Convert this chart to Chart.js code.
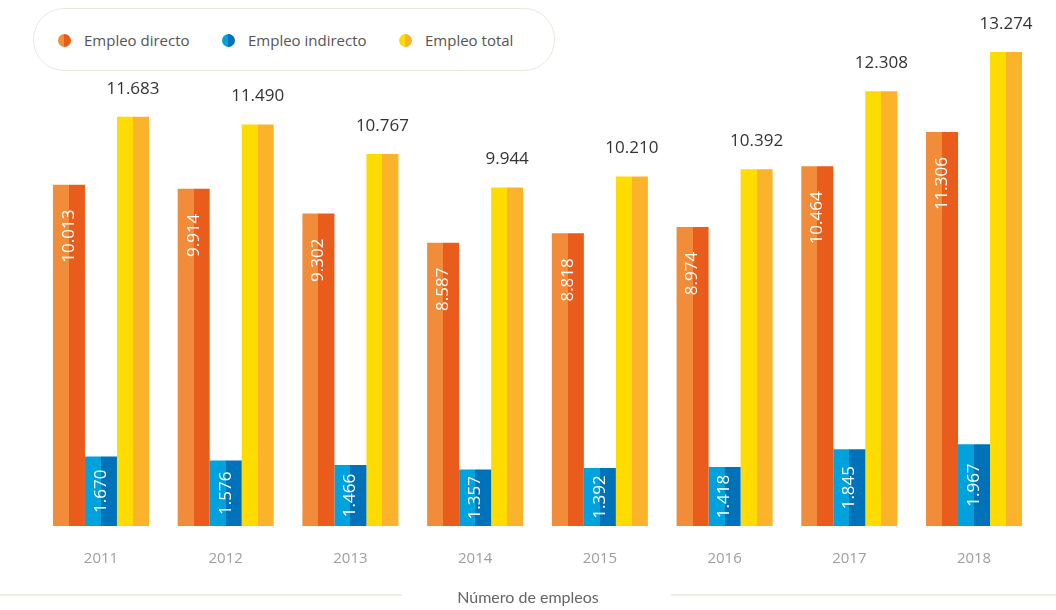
<!DOCTYPE html>
<html>
<head>
<meta charset="utf-8">
<script src="https://cdn.jsdelivr.net/npm/chart.js@4"></script>
<style>
  body { margin: 0; background: #fff; font-family: "Open Sans", sans-serif; }
  #wrap { position: relative; width: 1056px; height: 610px; }
  #legend {
    position: absolute; left: 33px; top: 8px; width: 522px; height: 63px;
    border: 1.5px solid #e6e9dc; border-radius: 31px; box-sizing: border-box;
    background: #fff;
  }
  .item { position: absolute; top: 21px; font-size: 15px; color: #555; line-height: 20px; }
  .dot { position: absolute; top: 25px; width: 13px; height: 13px; border-radius: 50%; }
  #axisTitle {
    position: absolute; top: 587px; left: 0; width: 1056px; text-align: center;
    font-family: Lato, sans-serif; font-size: 16px; color: #666;
  }
  .rule { position: absolute; top: 594px; height: 2px; background: #eeeee6; }
</style>
</head>
<body>
<div id="wrap">
  <canvas id="chart" width="1056" height="610"></canvas>
  <div id="legend"></div>
  <div class="rule" style="left:0;width:402px"></div>
  <div class="rule" style="left:671px;width:385px"></div>
  <div id="axisTitle">Número de empleos</div>
</div>
<script>
// data
const years = ['2011', '2012', '2013', '2014', '2015', '2016', '2017', '2018'];
const directo = [10013, 9914, 9302, 8587, 8818, 8974, 10464, 11306];
const indirecto = [1670, 1576, 1466, 1357, 1392, 1418, 1845, 1967];
const total = [11683, 11490, 10767, 9944, 10210, 10392, 12308, 13274];
const seriesNames = ['Empleo directo', 'Empleo indirecto', 'Empleo total'];

// two tones per series (left half, right half)
const tones = [
    ['#f08c3a', '#e95c1b'],
    ['#00a2dd', '#0072b9'],
    ['#ffdc00', '#fab32b']
];

const CAT_PCT = 0.77;

// split the bar into a light and a dark half
function twoTone(dsIndex) {
    return (context) => {
        const chart = context.chart;
        const xs = chart.scales.x;
        if (!xs || context.dataIndex === undefined) return tones[dsIndex][0];
        const catW = xs.width / years.length;
        const barW = catW * CAT_PCT / 3;
        const center = xs.getPixelForValue(context.dataIndex);
        const left = center - catW * CAT_PCT / 2 + dsIndex * barW;
        if (!isFinite(left) || !isFinite(barW) || barW <= 0) return tones[dsIndex][0];
        const g = chart.ctx.createLinearGradient(left, 0, left + barW, 0);
        g.addColorStop(0, tones[dsIndex][0]);
        g.addColorStop(0.5, tones[dsIndex][0]);
        g.addColorStop(0.5, tones[dsIndex][1]);
        g.addColorStop(1, tones[dsIndex][1]);
        return g;
    };
}

// legend
const legend = document.getElementById('legend');
const legendX = [[24, 50], [188, 214], [365, 391]];
seriesNames.forEach((name, i) => {
    const dot = document.createElement('div');
    dot.className = 'dot';
    dot.style.left = legendX[i][0] + 'px';
    dot.style.background = `linear-gradient(90deg, ${tones[i][0]} 50%, ${tones[i][1]} 50%)`;
    legend.appendChild(dot);
    const txt = document.createElement('div');
    txt.className = 'item';
    txt.style.left = legendX[i][1] + 'px';
    txt.textContent = name;
    legend.appendChild(txt);
});

const fmt = (v) => v.toLocaleString('de-DE');

// value labels: rotated white inside bars, dark above total bars
const labelPlugin = {
    id: 'valueLabels',
    afterDatasetsDraw(chart) {
        const ctx = chart.ctx;
        ctx.save();
        ctx.font = '17px "Open Sans", sans-serif';
        [0, 1].forEach((ds) => {
            chart.getDatasetMeta(ds).data.forEach((bar, i) => {
                const v = chart.data.datasets[ds].data[i];
                ctx.save();
                ctx.fillStyle = '#ffffff';
                ctx.textBaseline = 'middle';
                if (ds === 0) {
                    ctx.translate(bar.x, bar.y + 25);
                    ctx.rotate(-Math.PI / 2);
                    ctx.textAlign = 'right';
                } else {
                    ctx.translate(bar.x, (bar.y + bar.base) / 2);
                    ctx.rotate(-Math.PI / 2);
                    ctx.textAlign = 'center';
                }
                ctx.fillText(fmt(v), 0, 0);
                ctx.restore();
            });
        });
        ctx.font = '17px "Open Sans", sans-serif';
        ctx.fillStyle = '#333333';
        ctx.textAlign = 'center';
        ctx.textBaseline = 'middle';
        chart.getDatasetMeta(2).data.forEach((bar, i) => {
            ctx.fillText(fmt(chart.data.datasets[2].data[i]), bar.x, bar.y - 28);
        });
        ctx.restore();
    }
};

new Chart(document.getElementById('chart'), {
    type: 'bar',
    data: {
        labels: years,
        datasets: [
            { label: seriesNames[0], data: directo, yAxisID: 'y', backgroundColor: twoTone(0) },
            { label: seriesNames[1], data: indirecto, yAxisID: 'y2', backgroundColor: twoTone(1) },
            { label: seriesNames[2], data: total, yAxisID: 'y', backgroundColor: twoTone(2) }
        ]
    },
    options: {
        responsive: false,
        animation: false,
        events: [],
        datasets: {
            bar: { categoryPercentage: CAT_PCT, barPercentage: 1, borderWidth: 0 }
        },
        layout: { padding: { left: 38.6, right: 19.6, top: 52, bottom: 26 } },
        plugins: { legend: { display: false }, tooltip: { enabled: false } },
        scales: {
            x: {
                grid: { display: false },
                border: { display: false },
                ticks: { color: '#9e9e9e', font: { family: 'Open Sans', size: 15 }, padding: 16 }
            },
            y: { display: false, min: 1620, max: 13274 },
            y2: { display: false, min: 0, max: 11400 }
        }
    },
    plugins: [labelPlugin]
});
</script>
</body>
</html>
